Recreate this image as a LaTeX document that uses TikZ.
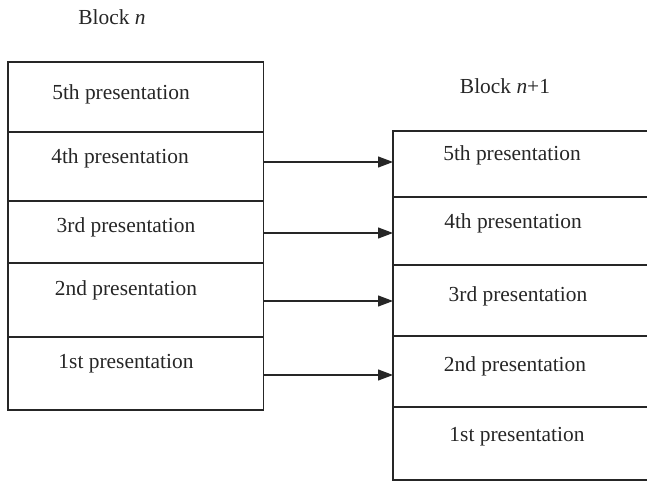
\documentclass[tikz,border=0pt]{standalone}
\usepackage{fontspec}
\setmainfont{Liberation Serif}
\usetikzlibrary{arrows.meta}
\begin{document}
\begin{tikzpicture}[x=1bp,y=-1bp,
  row/.style={draw=black!85, line width=1.2bp, inner sep=0, outer sep=0},
  lbl/.style={font=\fontsize{21.5}{24}\selectfont, inner sep=0, text=black!85},
  conn/.style={draw=black!85, line width=1.2bp, -{Triangle[length=15bp,width=11bp]}}]
\useasboundingbox (0,0) rectangle (647,481);
% left block
\node[row, minimum width=255.5bp, minimum height=70bp] (L5) at (135.75,97) {};
\node[row, minimum width=255.5bp, minimum height=69bp] (L4) at (135.75,166.5) {};
\node[row, minimum width=255.5bp, minimum height=62bp] (L3) at (135.75,232) {};
\node[row, minimum width=255.5bp, minimum height=74bp] (L2) at (135.75,300) {};
\node[row, minimum width=255.5bp, minimum height=73bp] (L1) at (135.75,373.5) {};
% right block
\node[row, minimum width=267bp, minimum height=66bp] (R5) at (526.5,164) {};
\node[row, minimum width=267bp, minimum height=68bp] (R4) at (526.5,231) {};
\node[row, minimum width=267bp, minimum height=71bp] (R3) at (526.5,300.5) {};
\node[row, minimum width=267bp, minimum height=71bp] (R2) at (526.5,371.5) {};
\node[row, minimum width=267bp, minimum height=73bp] (R1) at (526.5,443.5) {};
% titles
\node[lbl] (tn) at (112,17) {Block \textit{n}};
\node[lbl] (tn1) at (505,86) {Block \textit{n}+1};
% labels left
\node[lbl] (tL5) at (121,94) {5th presentation};
\node[lbl] (tL4) at (120,158) {4th presentation};
\node[lbl] (tL3) at (126,227) {3rd presentation};
\node[lbl] (tL2) at (126,290) {2nd presentation};
\node[lbl] (tL1) at (126,364) {1st presentation};
% labels right
\node[lbl] (tR5) at (512,155) {5th presentation};
\node[lbl] (tR4) at (513,223) {4th presentation};
\node[lbl] (tR3) at (518,296) {3rd presentation};
\node[lbl] (tR2) at (515,366) {2nd presentation};
\node[lbl] (tR1) at (517,437) {1st presentation};
% connectors
\draw[conn] (L4.east |- 0,162) -- (R5.west |- 0,162);
\draw[conn] (L3.east |- 0,233) -- (R4.west |- 0,233);
\draw[conn] (L2.east |- 0,301) -- (R3.west |- 0,301);
\draw[conn] (L1.east |- 0,375) -- (R2.west |- 0,375);
\end{tikzpicture}
\end{document}
